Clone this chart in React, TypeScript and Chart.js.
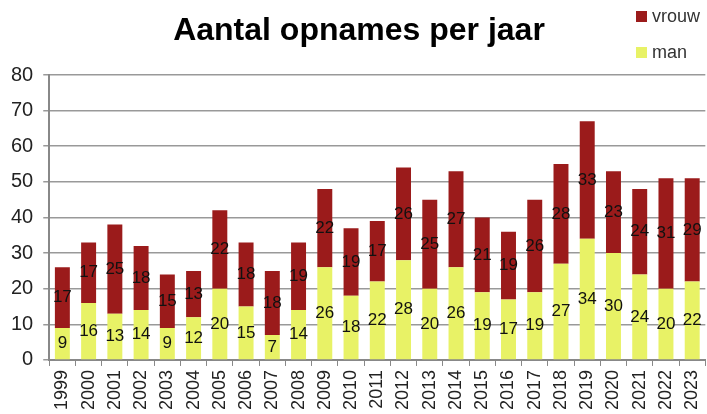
import React, { useEffect, useRef } from "react";
import { Chart, registerables } from "chart.js";

Chart.register(...registerables);

const years = ["1999","2000","2001","2002","2003","2004","2005","2006","2007","2008","2009","2010","2011","2012","2013","2014","2015","2016","2017","2018","2019","2020","2021","2022","2023"];
const man = [9,16,13,14,9,12,20,15,7,14,26,18,22,28,20,26,19,17,19,27,34,30,24,20,22];
const vrouw = [17,17,25,18,15,13,22,18,18,19,22,19,17,26,25,27,21,19,26,28,33,23,24,31,29];
const yTicks = [0,10,20,30,40,50,60,70,80];

const RED = "#9b1b1b";
const YELLOW = "#e8f266";
const FONT = "'Liberation Sans', Arial, sans-serif";

const labelPlugin = {
  id: "labels",
  afterDatasetsDraw(chart: any) {
    const ctx = chart.ctx;
    ctx.save();
    ctx.font = `17px ${FONT}`;
    ctx.fillStyle = "#111";
    ctx.textAlign = "center";
    ctx.textBaseline = "middle";
    chart.data.datasets.forEach((ds: any, di: number) => {
      const meta = chart.getDatasetMeta(di);
      meta.data.forEach((el: any, i: number) => {
        const y = (el.y + el.base) / 2;
        ctx.fillText(String(ds.data[i]), el.x, y);
      });
    });
    ctx.restore();
  },
};

const decorPlugin = {
  id: "decor",
  afterDraw(chart: any) {
    const ctx = chart.ctx;
    ctx.save();
    ctx.font = `bold 32px ${FONT}`;
    ctx.fillStyle = "#000";
    ctx.textAlign = "center";
    ctx.textBaseline = "middle";
    ctx.fillText("Aantal opnames per jaar", 359, 31);
    const items = [
      { label: "vrouw", color: RED, y: 17 },
      { label: "man", color: YELLOW, y: 53 },
    ];
    ctx.font = `18px ${FONT}`;
    ctx.textAlign = "left";
    items.forEach((it) => {
      ctx.fillStyle = it.color;
      ctx.fillRect(636, it.y - 6, 11, 11);
      ctx.fillStyle = "#333";
      ctx.fillText(it.label, 652, it.y);
    });
    ctx.restore();
  },
};

export default function App() {
  const ref = useRef<HTMLCanvasElement>(null);
  useEffect(() => {
    if (!ref.current) return;
    const chart = new Chart(ref.current, {
      type: "bar",
      data: {
        labels: years,
        datasets: [
          { label: "man", data: man, backgroundColor: YELLOW, barPercentage: 0.57, categoryPercentage: 1 },
          { label: "vrouw", data: vrouw, backgroundColor: RED, barPercentage: 0.57, categoryPercentage: 1 },
        ],
      },
      options: {
        responsive: false,
        animation: false,
        layout: { padding: { top: 75, right: 0, left: 1, bottom: 0 } },
        plugins: { legend: { display: false }, title: { display: false }, tooltip: { enabled: false } },
        scales: {
          x: {
            stacked: true,
            offset: true,
            grid: { display: true, drawOnChartArea: false, color: "#888", tickLength: 6, offset: true },
            border: { color: "#888", width: 2 },
            ticks: { minRotation: 90, maxRotation: 90, color: "#222", font: { size: 18, family: FONT, lineHeight: 0.6 }, padding: 4, autoSkip: false },
          },
          y: {
            stacked: true,
            min: 0,
            max: 80,
            afterBuildTicks: (axis: any) => { axis.ticks = yTicks.map((v) => ({ value: v })); },
            grid: { color: "#999", lineWidth: 1.5, tickLength: 6 },
            border: { color: "#888", width: 2 },
            ticks: { color: "#222", font: { size: 20, family: FONT }, padding: 10 },
          },
        },
      },
      plugins: [labelPlugin, decorPlugin],
    });
    return () => chart.destroy();
  }, []);
  return (
    <div style={{ position: "fixed", left: 0, top: 0, width: 707, height: 414, background: "#fff" }}>
      <canvas ref={ref} width={707} height={414} />
    </div>
  );
}
